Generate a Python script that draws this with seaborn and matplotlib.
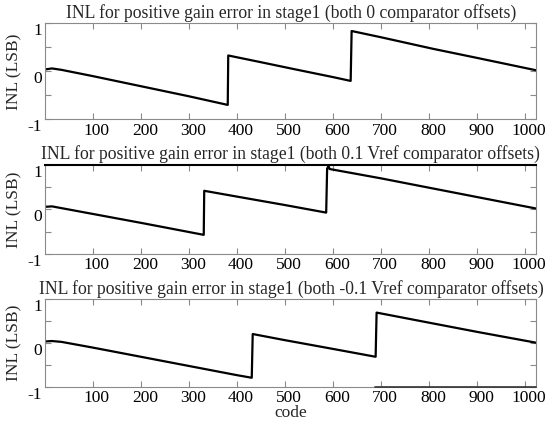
import matplotlib
matplotlib.use("Agg")
import matplotlib.pyplot as plt
from matplotlib.transforms import ScaledTranslation
import seaborn as sns
import pandas as pd

# ---- data (vertices) ----
titles = [
    "INL for positive gain error in stage1 (both 0 comparator offsets)",
    "INL for positive gain error in stage1 (both 0.1 Vref comparator offsets)",
    "INL for positive gain error in stage1 (both -0.1 Vref comparator offsets)",
]

code1 = [1, 15, 35, 100, 200, 300, 381, 382, 450, 517, 600, 637, 639, 700, 808, 900, 1024]
inl1 = [0.04, 0.06, 0.03, -0.10, -0.31, -0.52, -0.70, 0.33, 0.19, 0.05, -0.12, -0.20, 0.84, 0.71, 0.47, 0.28, 0.02]

code2 = [1, 15, 35, 100, 200, 239, 331, 332, 400, 500, 586, 588, 591, 593, 700, 800, 900, 1024]
inl2 = [0.06, 0.07, 0.03, -0.10, -0.30, -0.38, -0.57, 0.42, 0.29, 0.10, -0.07, 0.92, 0.98, 0.91, 0.70, 0.49, 0.28, 0.02]

code3 = [1, 15, 35, 100, 200, 300, 400, 431, 433, 500, 600, 689, 691, 800, 900, 1024]
inl3 = [0.03, 0.04, 0.02, -0.11, -0.32, -0.53, -0.74, -0.80, 0.20, 0.06, -0.14, -0.32, 0.69, 0.46, 0.25, 0.00]

xtick_vals = [100, 200, 300, 400, 500, 600, 700, 800, 900, 1000]
xtick_labels = ["100", "200", "300", "400", "500", "600", "700", "800", "900", "1000"]
ytick_vals = [-1, -0.5, 0, 0.5, 1]
ytick_labels = ["-1", "", "0", "", "1"]

ylabel_text = "INL (LSB)"
xlabel_text = "code"

# darker piece of the bottom frame in the last panel (scan artefact in the reference)
dark_frame_start_code = 688

# ---- styling ----
sns.set_theme(style="white")
plt.rcParams["font.family"] = ["Liberation Serif", "DejaVu Serif"]

fig = plt.figure(figsize=(5.49, 4.21), dpi=100)
positions = [
    [0.0825, 0.7166, 0.8947, 0.2280],
    [0.0825, 0.3967, 0.8947, 0.2114],
    [0.0825, 0.0819, 0.8947, 0.2078],
]
series = [(code1, inl1), (code2, inl2), (code3, inl3)]
FS_T = 12.7
FS = 12.5
spine_col = "#8a8a8a"
XMIN, XMAX = 1, 1024

for i, (pos, (cx, cy), title) in enumerate(zip(positions, series, titles)):
    ax = fig.add_axes(pos)
    df = pd.DataFrame({"code": cx, "INL": cy})
    sns.lineplot(data=df, x="code", y="INL", ax=ax, color="black",
                 linewidth=1.6, estimator=None, sort=False)
    ax.set_xlim(XMIN, XMAX)
    ax.set_ylim(-1, 1)
    ax.set_xticks(xtick_vals)
    ax.set_xticklabels(xtick_labels)
    ax.set_yticks(ytick_vals)
    ax.set_yticklabels(ytick_labels)
    ax.tick_params(direction="in", length=4, width=0.8, color=spine_col,
                   top=True, right=True, bottom=True, left=True,
                   labelsize=FS, labelcolor="black", pad=2.5)
    for s in ax.spines.values():
        s.set_color(spine_col)
        s.set_linewidth(0.8)
    if i == 1:
        ax.spines["top"].set_color("black")
        ax.spines["top"].set_linewidth(1.5)
    if i == 2:
        frac = (dark_frame_start_code - XMIN) / (XMAX - XMIN)
        ax.axhline(-1, xmin=frac, xmax=1, color="#333333", linewidth=1.2,
                   clip_on=False, zorder=5)
    ax.set_title(title, fontsize=FS_T, pad=4.0)
    ax.set_ylabel(ylabel_text, fontsize=FS)
    ax.yaxis.set_label_coords(-0.047, 0.5)
    if i == 2:
        ax.set_xlabel(xlabel_text, fontsize=FS, labelpad=-1)
    else:
        ax.set_xlabel("")
    for lab in ax.get_yticklabels():
        lab.set_transform(lab.get_transform() + ScaledTranslation(0, -6 / 100, fig.dpi_scale_trans))
    for lab in ax.get_xticklabels():
        lab.set_transform(lab.get_transform() + ScaledTranslation(4 / 100, 0, fig.dpi_scale_trans))

fig.savefig("out.png", dpi=100)
